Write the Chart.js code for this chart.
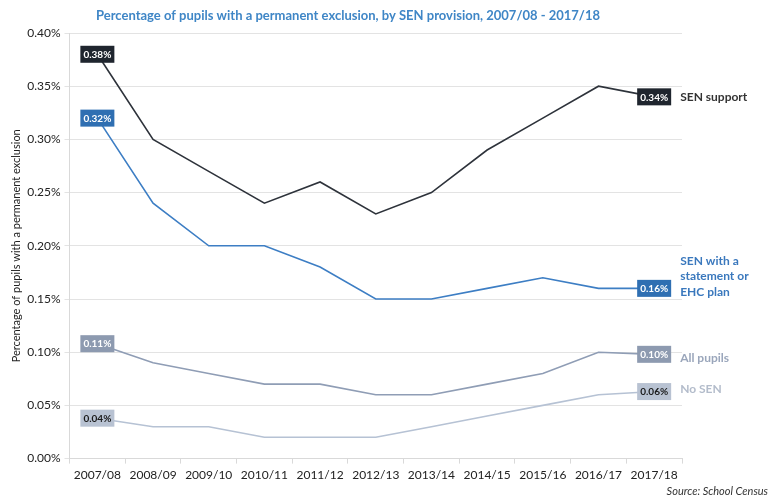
<!DOCTYPE html>
<html>
<head>
<meta charset="utf-8">
<script src="https://cdn.jsdelivr.net/npm/chart.js@4"></script>
<style>
  body { margin: 0; background: #fff; }
  #wrap { width: 772px; height: 497px; position: relative; }
</style>
</head>
<body>
<div id="wrap"><canvas id="chart"></canvas></div>
<script>
// Chart values (percent of pupils)
const years = ['2007/08', '2008/09', '2009/10', '2010/11', '2011/12', '2012/13', '2013/14', '2014/15', '2015/16', '2016/17', '2017/18'];
const senSupport = [0.38, 0.30, 0.27, 0.24, 0.26, 0.23, 0.25, 0.29, 0.32, 0.35, 0.34];
const senStatement = [0.32, 0.24, 0.20, 0.20, 0.18, 0.15, 0.15, 0.16, 0.17, 0.16, 0.16];
const allPupils = [0.108, 0.09, 0.08, 0.07, 0.07, 0.06, 0.06, 0.07, 0.08, 0.10, 0.098];
const noSen = [0.038, 0.03, 0.03, 0.02, 0.02, 0.02, 0.03, 0.04, 0.05, 0.06, 0.063];
const yTicks = [0, 0.05, 0.10, 0.15, 0.20, 0.25, 0.30, 0.35, 0.40];

const seriesNames = [['SEN support'], ['SEN with a', 'statement or', 'EHC plan'], ['All pupils'], ['No SEN']];
const firstLabels = ['0.38%', '0.32%', '0.11%', '0.04%'];
const lastLabels = ['0.34%', '0.16%', '0.10%', '0.06%'];

const FONT = 'Lato, "Open Sans", sans-serif';

// how each series' end boxes and names look
const styles = [
    { line: '#2e333b', box: '#1f252e', text: '#fff', name: '#333', nameDy: 0 },
    { line: '#3d7ec4', box: '#2f6fb2', text: '#fff', name: '#3a78bd', nameDy: -12 },
    { line: '#8f9db5', box: '#8d9ab0', text: '#fff', name: '#9aa6bb', nameDy: 4 },
    { line: '#b6c2d4', box: '#b8c2d2', text: '#1a1a1a', name: '#b3bccb', nameDy: -2 }
];

const labelPlugin = {
    id: 'endLabels',
    afterDatasetsDraw(chart) {
        const ctx = chart.ctx;
        ctx.save();
        chart.data.datasets.forEach((ds, i) => {
            const meta = chart.getDatasetMeta(i);
            const st = styles[i];
            const first = meta.data[0];
            const last = meta.data[meta.data.length - 1];
            drawBox(ctx, first.x, first.y, firstLabels[i], st);
            drawBox(ctx, last.x, last.y, lastLabels[i], st);
            // series name to the right
            ctx.font = 'bold 12px ' + FONT;
            ctx.fillStyle = st.name;
            ctx.textAlign = 'left';
            ctx.textBaseline = 'middle';
            const lines = seriesNames[i];
            const startY = last.y + st.nameDy - (lines.length - 1) * 15.5 / 2;
            lines.forEach((ln, k) => {
                ctx.fillText(ln, last.x + 26, startY + k * 15.5);
            });
        });
        // title
        ctx.font = 'bold 13px ' + FONT;
        ctx.fillStyle = '#3f86c6';
        ctx.textAlign = 'center';
        ctx.textBaseline = 'middle';
        ctx.fillText('Percentage of pupils with a permanent exclusion, by SEN provision, 2007/08 - 2017/18', 348, 16);
        // source
        ctx.font = 'italic 11px ' + FONT;
        ctx.fillStyle = '#333';
        ctx.textAlign = 'right';
        ctx.fillText('Source: School Census', 768, 491);
        ctx.restore();
    }
};

function drawBox(ctx, x, y, txt, st) {
    const w = 34, h = 17;
    ctx.fillStyle = st.box;
    ctx.fillRect(x - w / 2, y - h / 2, w, h);
    ctx.font = 'bold 10px ' + FONT;
    ctx.fillStyle = st.text;
    ctx.textAlign = 'center';
    ctx.textBaseline = 'middle';
    ctx.fillText(txt, x, y + 0.5);
}

function makeSet(data, i) {
    return {
        data: data,
        borderColor: styles[i].line,
        borderWidth: 1.6,
        pointRadius: 0,
        tension: 0,
        fill: false
    };
}

new Chart(document.getElementById('chart'), {
    type: 'line',
    data: {
        labels: years,
        datasets: [makeSet(senSupport, 0), makeSet(senStatement, 1), makeSet(allPupils, 2), makeSet(noSen, 3)]
    },
    options: {
        responsive: true,
        maintainAspectRatio: false,
        animation: false,
        layout: { padding: { top: 33, right: 90, left: 10, bottom: 11 } },
        plugins: {
            legend: { display: false },
            tooltip: { enabled: false }
        },
        scales: {
            x: {
                offset: true,
                grid: { offset: true, drawOnChartArea: false, drawTicks: true, tickLength: 5, color: '#d9d9d9' },
                border: { color: '#d9d9d9' },
                ticks: { color: '#222', font: { family: FONT, size: 12 }, maxRotation: 0, padding: 4 }
            },
            y: {
                min: 0,
                max: 0.4,
                afterBuildTicks: axis => { axis.ticks = yTicks.map(v => ({ value: v })); },
                grid: { color: '#e3e3e3', tickLength: 5 },
                border: { color: '#d9d9d9' },
                ticks: {
                    color: '#222',
                    font: { family: FONT, size: 12 },
                    padding: 4,
                    callback: v => v.toFixed(2) + '%'
                },
                title: {
                    display: true,
                    text: 'Percentage of pupils with a permanent exclusion',
                    color: '#222',
                    font: { family: FONT, size: 11 },
                    padding: { top: 0, bottom: 0 }
                }
            }
        }
    },
    plugins: [labelPlugin]
});
</script>
</body>
</html>
